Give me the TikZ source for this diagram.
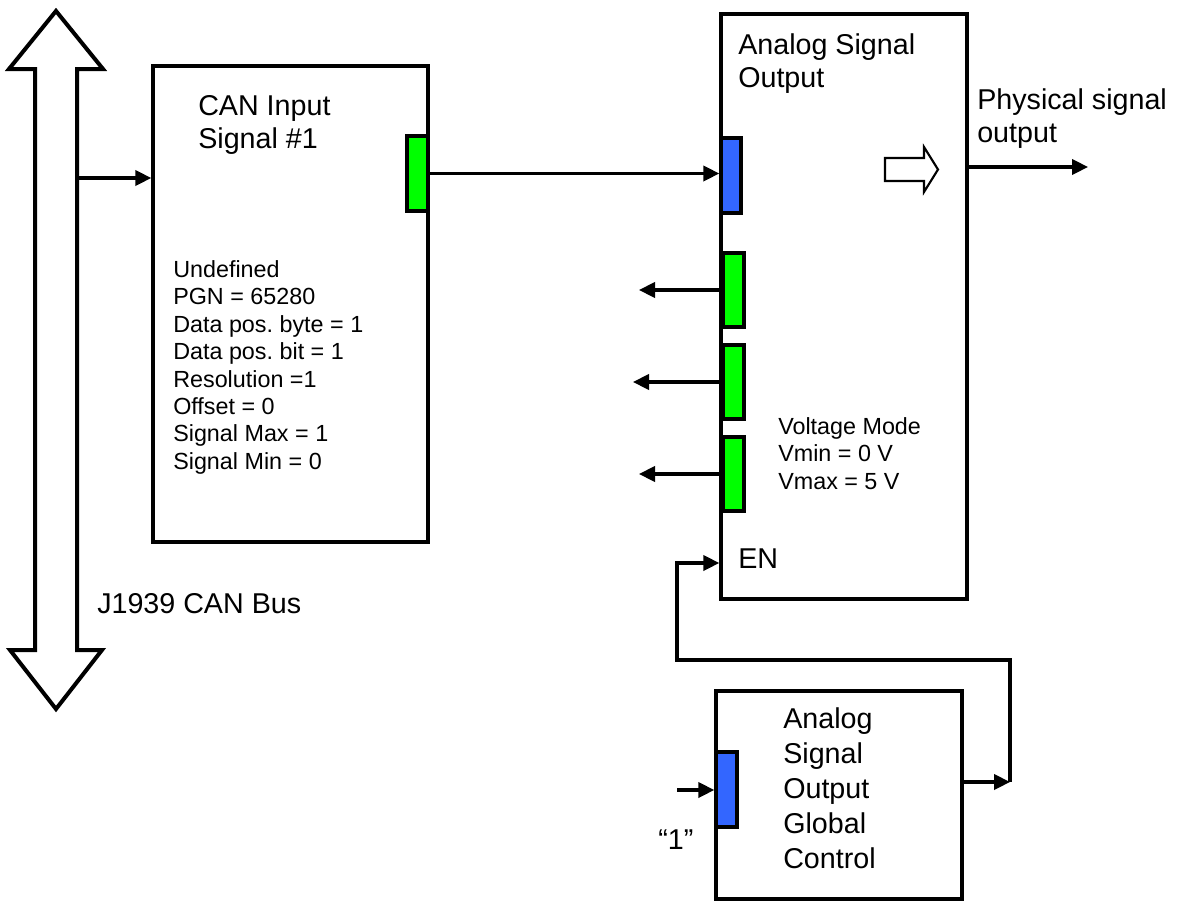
\documentclass[tikz,border=0pt]{standalone}
\usepackage{fontspec}
\setmainfont{Liberation Sans}
\usetikzlibrary{arrows.meta,fit}
\definecolor{portgreen}{RGB}{0,255,0}
\definecolor{portblue}{RGB}{51,102,255}
\frenchspacing
\tikzset{
  box/.style={draw=black, line width=2.6pt, inner sep=0pt, fill=white},
  gport/.style={draw=black, line width=2.6pt, inner sep=0pt, fill=portgreen},
  bport/.style={draw=black, line width=2.6pt, inner sep=0pt, fill=portblue},
  conn/.style={draw=black, line width=2.3pt, -{Triangle[length=12pt,width=11.5pt]}},
  bigtxt/.style={anchor=north west, inner sep=0pt, align=left, font=\fontsize{21.5}{24.75}\selectfont},
  gctxt/.style={anchor=north west, inner sep=0pt, align=left, font=\fontsize{21.5}{26.25}\selectfont},
  smalltxt/.style={anchor=north west, inner sep=0pt, align=left, font=\fontsize{17.5}{20.6}\selectfont},
}
\begin{document}
\begin{tikzpicture}[x=0.75pt, y=-0.75pt, line join=miter]
\useasboundingbox (0,0) rectangle (1199,903);

% J1939 CAN bus double arrow
\draw[line width=3pt, fill=white] (35,650) -- (35,69) -- (9,69) -- (56,11) -- (103,69) -- (77,69)
  -- (77,650) -- (102,650) -- (56,709) -- (10,650) -- cycle;
\coordinate (busR) at (77,178);
\node[bigtxt] (bustxt) at (97,593) {J1939 CAN Bus};

% CAN Input Signal block
\node[box, fit={(153,66) (428,542)}] (can) {};
\node[gport, fit={(407,136) (428,211)}] (canport) {};
\node[bigtxt] (cantitle) at (198,95) {CAN Input\\Signal \#1};
\node[smalltxt] (candata) at (173,260) {Undefined\\PGN = 65280\\Data pos. byte = 1\\Data pos. bit = 1\\Resolution =1\\Offset = 0\\Signal Max = 1\\Signal Min = 0};

% Analog Signal Output block
\node[box, fit={(721,14) (967,599)}] (aso) {};
\node[bport, fit={(721,138) (741,213)}] (asoin) {};
\node[gport, fit={(723,253) (744,327)}] (g1) {};
\node[gport, fit={(723,345) (744,419)}] (g2) {};
\node[gport, fit={(723,437) (744,511)}] (g3) {};
\node[bigtxt] (asotitle) at (738,33) {Analog Signal\\Output};
\node[smalltxt] (asodata) at (778,417) {Voltage Mode\\Vmin = 0 V\\Vmax = 5 V};
\node[bigtxt] (entxt) at (738,549) {EN};
\draw[line width=1.6pt, fill=white] (885,158) -- (924,158) -- (924,147) -- (938,169.5) -- (924,192) -- (924,181) -- (885,181) -- cycle;
\node[bigtxt] (phystxt) at (977,88) {Physical signal\\output};
\coordinate (phys) at (1088,167);

% Global control block
\node[box, fit={(716,691) (962,899)}] (gc) {};
\node[bport, fit={(716,752) (737,827)}] (gcin) {};
\node[gctxt] (gctitle) at (783,707) {Analog\\Signal\\Output\\Global\\Control};
\node[bigtxt] (onetxt) at (658,830) {“1”};

% connectors
\coordinate (o1) at (639,292);
\coordinate (o2) at (633,380);
\coordinate (o3) at (639,473);
\coordinate (one) at (677,790);
\coordinate (jn) at (1010,782);
\coordinate (k1) at (677,660);
\coordinate (en) at (721,563);

\draw[conn] (busR) -- (busR -| can.west);
\draw[conn] (canport.east) -- (canport.east -| asoin.west);
\draw[conn] (g1.west) -- (g1.west -| o1);
\draw[conn] (g2.west) -- (g2.west -| o2);
\draw[conn] (g3.west) -- (g3.west -| o3);
\draw[conn] (aso.east |- phys) -- (phys);
\draw[conn] (one) -- (one -| gcin.west);
\draw[conn] (gc.east |- jn) -- (jn);
\draw[conn] (jn) |- (k1) |- (aso.west |- en);
\end{tikzpicture}
\end{document}
